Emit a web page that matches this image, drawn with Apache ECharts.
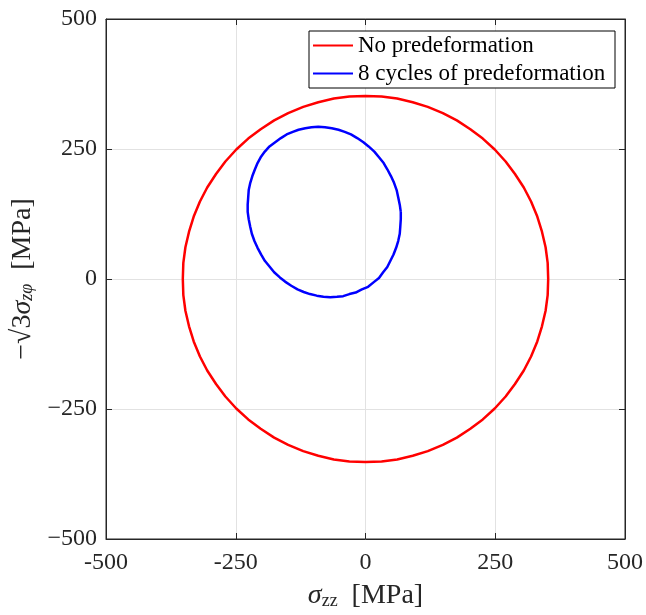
<!DOCTYPE html>
<html>
<head>
<meta charset="utf-8">
<script src="https://cdn.jsdelivr.net/npm/echarts@6/dist/echarts.min.js"></script>
<style>
  html, body { margin: 0; padding: 0; background: #fff; }
  #chart { width: 646px; height: 615px; }
</style>
</head>
<body>
<div id="chart"></div>
<script>
// yield surfaces, [sigma_zz, -sqrt3*sigma_zphi] in MPa
const noPredef = [
  [352, 0], [351, 31], [347, 61], [340, 91], [331, 120], [319, 149],
  [305, 176], [288, 202], [270, 226], [249, 249], [226, 270], [202, 288],
  [176, 305], [149, 319], [120, 331], [91, 340], [61, 347], [31, 351],
  [0, 352], [-31, 351], [-61, 347], [-91, 340], [-120, 331], [-149, 319],
  [-176, 305], [-202, 288], [-226, 270], [-249, 249], [-270, 226], [-288, 202],
  [-305, 176], [-319, 149], [-331, 120], [-340, 91], [-347, 61], [-351, 31],
  [-352, 0], [-351, -31], [-347, -61], [-340, -91], [-331, -120], [-319, -149],
  [-305, -176], [-288, -202], [-270, -226], [-249, -249], [-226, -270], [-202, -288],
  [-176, -305], [-149, -319], [-120, -331], [-91, -340], [-61, -347], [-31, -351],
  [0, -352], [31, -351], [61, -347], [91, -340], [120, -331], [149, -319],
  [176, -305], [202, -288], [226, -270], [249, -249], [270, -226], [288, -202],
  [305, -176], [319, -149], [331, -120], [340, -91], [347, -61], [351, -31],
  [352, 0]
];
const cycles8 = [
  [68, 129], [66, 143], [63, 157], [60, 171], [55, 185], [49, 198],
  [42, 211], [35, 223], [26, 234], [17, 245], [6, 255], [-4, 263],
  [-16, 271], [-28, 278], [-40, 283], [-52, 287], [-65, 290], [-78, 292],
  [-91, 293], [-104, 292], [-116, 290], [-129, 287], [-140, 283], [-152, 278],
  [-163, 271], [-174, 263], [-185, 255], [-194, 245], [-202, 234], [-208, 223],
  [-213, 211], [-218, 198], [-222, 185], [-225, 171], [-226, 157], [-227, 143],
  [-227, 129], [-225, 115], [-222, 100], [-219, 87], [-214, 73], [-208, 60],
  [-201, 47], [-194, 35], [-185, 24], [-176, 13], [-165, 3], [-155, -5],
  [-143, -13], [-131, -20], [-119, -25], [-107, -29], [-94, -32], [-81, -34],
  [-68, -35], [-55, -34], [-43, -33], [-31, -29], [-19, -26], [-7, -20],
  [5, -15], [16, -6], [26, 2], [34, 13], [42, 23], [48, 35],
  [54, 47], [59, 60], [63, 73], [66, 87], [67, 100], [68, 115],
  [68, 129]
];
const seriesNames = ['No predeformation', '8 cycles of predeformation'];

const serif = 'Liberation Serif';
const axisCol = '#262626';

const chart = echarts.init(document.getElementById('chart'));

function baseAxis(extra) {
  return Object.assign({
    type: 'value',
    min: -500,
    max: 500,
    interval: 250,
    axisLine: { show: true, onZero: false, lineStyle: { color: axisCol, width: 1 } },
    axisTick: { show: true, inside: true, length: 6, lineStyle: { color: axisCol } },
    splitLine: { show: false }
  }, extra);
}

const nameRich = {
  i: { fontFamily: serif, fontStyle: 'italic', fontSize: 28, color: axisCol },
  s: { fontFamily: serif, fontSize: 18, color: axisCol, verticalAlign: 'bottom', padding: [10, 0, 0, 0] },
  si: { fontFamily: serif, fontStyle: 'italic', fontSize: 18, color: axisCol, verticalAlign: 'bottom', padding: [10, 0, 0, 0] }
};

chart.setOption({
  animation: false,
  backgroundColor: '#fff',
  grid: { left: 106, right: 19, top: 19, bottom: 75, show: true, borderColor: axisCol, borderWidth: 1 },
  legend: {
    orient: 'vertical',
    right: 31,
    top: 31,
    icon: 'rect',
    itemWidth: 40,
    itemHeight: 2,
    itemGap: 5,
    padding: [3, 4, 3, 4],
    backgroundColor: '#fff',
    borderColor: '#000',
    borderWidth: 1,
    borderRadius: 0,
    textStyle: { fontFamily: serif, fontSize: 23, lineHeight: 23, color: '#000', width: 253 },
    data: seriesNames
  },
  xAxis: [
    baseAxis({
      position: 'bottom',
      name: '{i|σ}{s|zz}  [MPa]',
      nameLocation: 'middle',
      nameGap: 43,
      nameTextStyle: { fontFamily: serif, fontSize: 28, color: axisCol, rich: nameRich },
      axisLabel: {
        fontFamily: serif, fontSize: 24, color: axisCol, margin: 12,
        formatter: v => String(v)
      },
      splitLine: { show: true, lineStyle: { color: '#e2e2e2', width: 1 } }
    }),
    baseAxis({ position: 'top', axisLabel: { show: false } })
  ],
  yAxis: [
    baseAxis({
      position: 'left',
      name: '−√3{i|σ}{si|zφ}  [MPa]',
      nameLocation: 'middle',
      nameGap: 60,
      nameTextStyle: { fontFamily: serif, fontSize: 28, color: axisCol, rich: nameRich },
      axisLabel: {
        fontFamily: serif, fontSize: 24, color: axisCol, margin: 9,
        formatter: v => String(v).replace('-', '−')
      },
      splitLine: { show: true, lineStyle: { color: '#e2e2e2', width: 1 } }
    }),
    baseAxis({ position: 'right', axisLabel: { show: false } })
  ],
  series: [
    {
      name: seriesNames[0],
      type: 'line',
      data: noPredef,
      symbol: 'none',
      lineStyle: { color: '#ff0000', width: 2.5 },
      itemStyle: { color: '#ff0000' }
    },
    {
      name: seriesNames[1],
      type: 'line',
      data: cycles8,
      symbol: 'none',
      lineStyle: { color: '#0000ff', width: 2.5 },
      itemStyle: { color: '#0000ff' }
    }
  ]
});
</script>
</body>
</html>
